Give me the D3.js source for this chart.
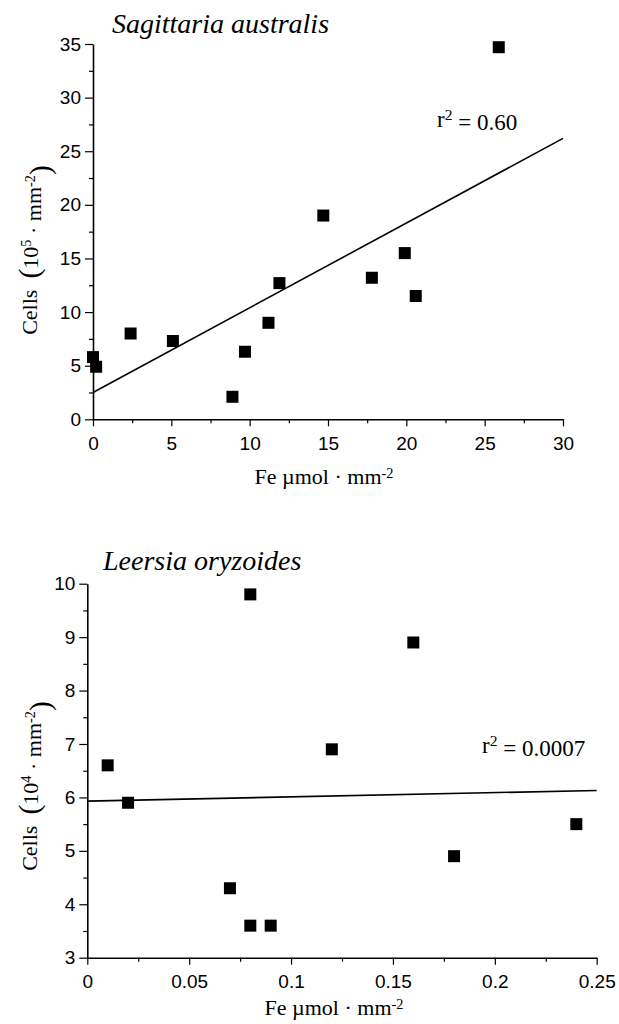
<!DOCTYPE html>
<html>
<head>
<meta charset="utf-8">
<script src="https://cdn.jsdelivr.net/npm/d3@7"></script>
<style>
  body { margin: 0; background: #fff; }
  .tick text { font-family: "Liberation Sans", Arial, sans-serif; font-size: 19px; fill: #000; }
  .serif { font-family: "Liberation Serif", "Times New Roman", serif; fill: #000; }
</style>
</head>
<body>
<svg id="chart" width="619" height="1024"></svg>
<script>
// Sagittaria australis (top panel)
const sagFe = [0, 0.2, 2.4, 5.1, 8.9, 9.7, 11.2, 11.9, 14.7, 17.8, 19.9, 20.6, 25.9];
const sagCells = [5.8, 4.9, 8.0, 7.3, 2.1, 6.3, 9.0, 12.7, 19.0, 13.2, 15.5, 11.5, 34.7];
const sagFitFe = [0, 30];
const sagFitCells = [2.5, 26.2];
const sagXTicks = [0, 5, 10, 15, 20, 25, 30];
const sagYTicks = [0, 5, 10, 15, 20, 25, 30, 35];

// Leersia oryzoides (bottom panel)
const leeFe = [0.01, 0.02, 0.07, 0.08, 0.08, 0.09, 0.12, 0.16, 0.18, 0.24];
const leeCells = [6.6, 5.9, 4.3, 9.8, 3.6, 3.6, 6.9, 8.9, 4.9, 5.5];
const leeFitFe = [0, 0.25];
const leeFitCells = [5.93, 6.13];
const leeXTicks = [0, 0.05, 0.1, 0.15, 0.2, 0.25];
const leeYTicks = [3, 4, 5, 6, 7, 8, 9, 10];

const svg = d3.select("#chart");

// helper to get the in-between (minor) tick values
function midTicks(ticks) {
  return ticks.slice(1).map((t, i) => (t + ticks[i]) / 2);
}

function drawPanel(opts) {
  const x = d3.scaleLinear().domain(opts.xDomain).range(opts.xRange);
  const y = d3.scaleLinear().domain(opts.yDomain).range(opts.yRange);
  const g = svg.append("g");
  const fmt = d => String(+d.toFixed(3));

  // minor ticks first
  g.append("g")
    .attr("transform", `translate(0,${opts.yRange[0]})`)
    .call(d3.axisBottom(x).tickValues(midTicks(opts.xTicks)).tickSize(4).tickFormat(""))
    .call(a => a.select(".domain").remove());
  g.append("g")
    .attr("transform", `translate(${opts.xRange[0]},0)`)
    .call(d3.axisLeft(y).tickValues(midTicks(opts.yTicks)).tickSize(4).tickFormat(""))
    .call(a => a.select(".domain").remove());

  // major ticks + axis lines
  g.append("g")
    .attr("transform", `translate(0,${opts.yRange[0]})`)
    .call(d3.axisBottom(x).tickValues(opts.xTicks).tickSize(7).tickSizeOuter(0).tickPadding(10).tickFormat(fmt));
  g.append("g")
    .attr("transform", `translate(${opts.xRange[0]},0)`)
    .call(d3.axisLeft(y).tickValues(opts.yTicks).tickSize(8).tickSizeOuter(0).tickPadding(4).tickFormat(fmt));

  g.selectAll(".domain").attr("stroke", "#000").attr("stroke-width", 1.6);
  g.selectAll(".tick line").attr("stroke", "#000").attr("stroke-width", 1.2);

  // regression line
  const fit = opts.fitX.map((v, i) => ({ x: v, y: opts.fitY[i] }));
  g.append("path")
    .datum(fit)
    .attr("fill", "none")
    .attr("stroke", "#000")
    .attr("stroke-width", 1.6)
    .attr("d", d3.line().x(d => x(d.x)).y(d => y(d.y)));

  // square markers
  const pts = opts.px.map((v, i) => ({ x: v, y: opts.py[i] }));
  const s = 12;
  g.selectAll(".pt")
    .data(pts)
    .enter()
    .append("rect")
    .attr("class", "pt")
    .attr("x", d => x(d.x) - s / 2)
    .attr("y", d => y(d.y) - s / 2)
    .attr("width", s)
    .attr("height", s)
    .attr("fill", "#000");

  // species title
  g.append("text")
    .attr("class", "serif")
    .attr("x", opts.titlePos[0])
    .attr("y", opts.titlePos[1])
    .attr("font-size", 28)
    .attr("font-style", "italic")
    .text(opts.title);

  // r squared label
  const r = g.append("text")
    .attr("class", "serif")
    .attr("x", opts.rPos[0])
    .attr("y", opts.rPos[1])
    .attr("font-size", 23);
  r.append("tspan").text("r");
  r.append("tspan").attr("dy", "-0.42em").attr("font-size", "0.68em").text("2");
  r.append("tspan").attr("dy", "0.42em").text(" = " + opts.r2);

  // x axis title
  const xt = g.append("text")
    .attr("class", "serif")
    .attr("x", opts.xTitlePos[0])
    .attr("y", opts.xTitlePos[1])
    .attr("font-size", 22)
    .attr("text-anchor", "middle");
  xt.append("tspan").text("Fe \u00b5mol \u00b7 mm");
  xt.append("tspan").attr("dy", "-0.45em").attr("font-size", "0.65em").text("-2");

  // y axis title
  const yt = g.append("text")
    .attr("class", "serif")
    .attr("transform", `translate(${opts.yTitlePos[0]},${opts.yTitlePos[1]}) rotate(-90)`)
    .attr("font-size", 22)
    .attr("text-anchor", "middle");
  yt.append("tspan").text("Cells\u00a0\u00a0");
  yt.append("tspan").attr("font-size", "1.35em").attr("dy", "0.08em").text("(");
  yt.append("tspan").attr("dy", "-0.08em").text("10");
  yt.append("tspan").attr("dy", "-0.45em").attr("font-size", "0.65em").text(opts.exp);
  yt.append("tspan").attr("dy", "0.45em").text(" \u00b7 mm");
  yt.append("tspan").attr("dy", "-0.45em").attr("font-size", "0.65em").text("-2");
  yt.append("tspan").attr("dy", "0.53em").attr("font-size", "1.35em").text(")");
}

drawPanel({
  px: sagFe, py: sagCells, fitX: sagFitFe, fitY: sagFitCells,
  xTicks: sagXTicks, yTicks: sagYTicks,
  xDomain: [0, 30], yDomain: [0, 35],
  xRange: [93, 563], yRange: [419.3, 44],
  title: "Sagittaria australis", titlePos: [112, 33],
  r2: "0.60", rPos: [437, 127],
  xTitlePos: [324, 484], yTitlePos: [37, 250], exp: "5"
});

drawPanel({
  px: leeFe, py: leeCells, fitX: leeFitFe, fitY: leeFitCells,
  xTicks: leeXTicks, yTicks: leeYTicks,
  xDomain: [0, 0.25], yDomain: [3, 10],
  xRange: [87.3, 596.7], yRange: [957.7, 583.7],
  title: "Leersia oryzoides", titlePos: [103, 570],
  r2: "0.0007", rPos: [482, 753],
  xTitlePos: [334, 1015], yTitlePos: [37, 786], exp: "4"
});
</script>
</body>
</html>
